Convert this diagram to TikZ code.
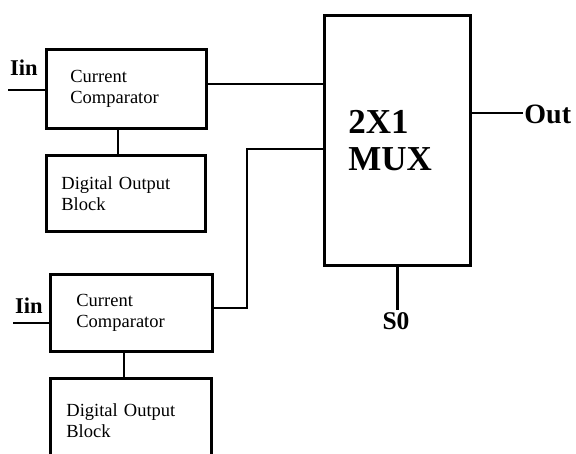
\documentclass[tikz,border=0pt]{standalone}
\usepackage{fontspec}
\setmainfont{Liberation Serif}
\begin{document}
\begin{tikzpicture}[x=1pt,y=1pt,line width=2.8pt,
  box/.style={draw,rectangle,align=left,font=\fontsize{18.5}{21}\selectfont,inner ysep=0pt,anchor=north west},
  lbl/.style={font=\bfseries\fontsize{22.5}{24}\selectfont,inner sep=0pt},
  wire/.style={line width=2.8pt}]
\useasboundingbox (0,0) rectangle (576,-453);
\clip (0,0) rectangle (576,-453);
% Multiplexer
\node[box,minimum height=250,text width=98,inner xsep=24,font=\bfseries\fontsize{35}{37}\selectfont] (mux) at (323,-14) {2X1\\MUX};
% upper branch
\node[box,minimum height=79,text width=112,inner xsep=24] (cc1) at (45,-48) {Current\\Comparator};
\node[box,minimum height=76,text width=129,inner xsep=15] (dig1) at (45,-154) {Digital Output\\Block};
% lower branch
\node[box,minimum height=77,text width=110,inner xsep=26] (cc2) at (49,-273) {Current\\Comparator};
\node[box,minimum height=84,text width=129,inner xsep=16] (dig2) at (49,-377) {Digital Output\\Block};
% inputs
\coordinate (in1) at (8,-90);
\coordinate (in2) at (13,-323);
\draw[wire] (in1) -- (in1 -| cc1.west);
\draw[wire] (in2) -- (in2 -| cc2.west);
\node[lbl,anchor=base] (iin1) at (24,-75) {Iin};
\node[lbl,anchor=base] (iin2) at (29,-313) {Iin};
% comparator to output block
\coordinate (v1) at (118,0);
\coordinate (v2) at (124,0);
\draw[wire] (v1 |- cc1.south) -- (v1 |- dig1.north);
\draw[wire] (v2 |- cc2.south) -- (v2 |- dig2.north);
% comparators to mux
\coordinate (a1) at (205,-84);
\draw[wire] (a1) -- (a1 -| mux.west);
\coordinate (b1) at (211,-308);
\coordinate (b2) at (247,-308);
\coordinate (b3) at (247,-149);
\draw[wire] (b1) -- (b2) -- (b3) -- (b3 -| mux.west);
% output
\coordinate (o1) at (469,-113);
\node[lbl,anchor=west,font=\bfseries\fontsize{28}{30}\selectfont] (out) at (523,-114) {Out};
\draw[wire] (o1) -- (o1 -| out.west);
% select
\node[lbl,anchor=north,font=\bfseries\fontsize{25.5}{28}\selectfont] (s0) at (396,-311) {S0};
\draw[wire] (mux.south) -- ([yshift=-43]mux.south);
\end{tikzpicture}
\end{document}
